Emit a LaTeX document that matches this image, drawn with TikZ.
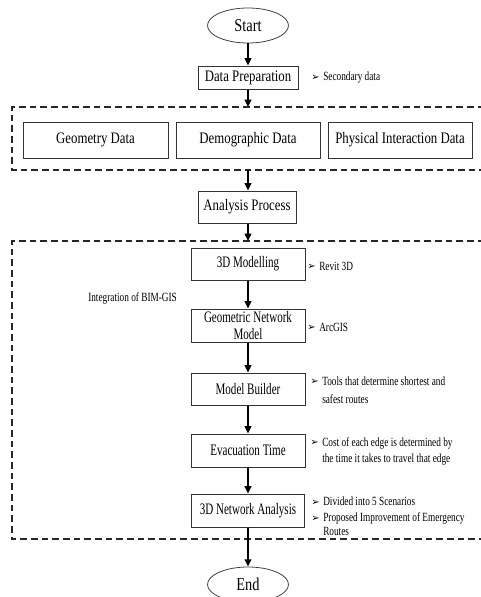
\documentclass[tikz,border=0pt]{standalone}
\usepackage{fontspec}
\setmainfont{Liberation Serif}[FakeStretch=0.8]
\newfontfamily\narrowfont{Liberation Serif}[FakeStretch=0.69]
\newfontfamily\sidefont{Liberation Serif}[FakeStretch=0.74]
\newfontfamily\symfont{DejaVu Sans}
\usetikzlibrary{arrows.meta,shapes.geometric}
\newcommand{\bul}{\makebox[9pt][l]{\raisebox{0.3pt}{\symfont\fontsize{7.5}{8}\selectfont ➢}}}
\begin{document}
\begin{tikzpicture}[x=0.75pt,y=-0.75pt,
  term/.style={ellipse,draw=black!75,line width=0.6pt,inner sep=0pt,minimum width=60.75pt,minimum height=26.25pt,font=\fontsize{13.5}{15}\selectfont},
  procbox/.style={rectangle,draw=black!80,line width=0.75pt,inner sep=0pt,align=center,font=\fontsize{12}{12.75}\selectfont},
  lowbox/.style={procbox,font=\narrowfont\fontsize{12}{12.75}\selectfont},
  side/.style={anchor=west,inner sep=0pt,align=left,font=\sidefont\fontsize{9.4}{11}\selectfont},
  group/.style={draw=black!85,line width=0.9pt,dash pattern=on 5pt off 3pt},
  flow/.style={line width=1.5pt,-{Triangle[length=5.5pt,width=5pt]}}]
\useasboundingbox (0,0) rectangle (481,597);
\clip (0,0) rectangle (481,597);
\fill[white] (0,0) rectangle (481,597);

% nodes
\node[term] (start) at (248,25.5) {Start};
\node[procbox,minimum width=75pt,minimum height=17.25pt] (prep) at (248,77.5) {Data Preparation};
\node[side] (sec) at (311,77.5) {\bul Secondary data};

\draw[group] (495,107) -- (12,107) -- (12,170) -- (495,170);
\coordinate (g1top) at (248,107);
\coordinate (g1bot) at (248,170);
\node[procbox,minimum width=108.75pt,minimum height=27pt] (geo) at (95.5,140) {Geometry Data};
\node[procbox,minimum width=108pt,minimum height=27pt] (demo) at (248,140) {Demographic Data};
\node[procbox,minimum width=108pt,minimum height=27pt] (phys) at (400,140) {Physical Interaction Data};

\node[procbox,minimum width=73.5pt,minimum height=24pt] (ana) at (247,207) {Analysis Process};

\draw[group] (495,241) -- (12,241) -- (12,539) -- (495,539);
\coordinate (g2top) at (248,241);

\node[lowbox,minimum width=85.5pt,minimum height=24pt] (m3d) at (248,264) {3D Modelling};
\node[side] (revit) at (307,266) {\bul Revit 3D};
\node[side] (bimgis) at (88,298) {Integration of BIM-GIS};
\node[lowbox,minimum width=85.5pt,minimum height=24.75pt] (gnm) at (248,325.5) {Geometric Network\\Model};
\node[side] (arcgis) at (307,327) {\bul ArcGIS};
\node[lowbox,minimum width=85.5pt,minimum height=24pt] (mb) at (248,389) {Model Builder};
\node[side] (tools) at (310,391.5) {\begin{tabular}{@{}l@{}l@{}}\bul & Tools that determine shortest and\\[3pt] & safest routes\end{tabular}};
\node[lowbox,minimum width=85.5pt,minimum height=24.75pt] (evac) at (248,450.5) {Evacuation Time};
\node[side] (cost) at (310,451.5) {\begin{tabular}{@{}l@{}l@{}}\bul & Cost of each edge is determined by\\[1.5pt] & the time it takes to travel that edge\end{tabular}};
\node[lowbox,minimum width=84.75pt,minimum height=24.75pt] (na) at (248,510.5) {3D Network Analysis};
\node[side] (div) at (311,518) {\begin{tabular}{@{}l@{}l@{}}\bul & Divided into 5 Scenarios\\[1pt] \bul & Proposed Improvement of Emergency\\[-0.5pt] & Routes\end{tabular}};

\node[term] (end) at (248,584.5) {End};

% connectors
\draw[flow] (start) -- (prep);
\draw[flow] (prep) -- (g1top);
\draw[flow] (g1bot) -- (ana.north -| g1bot);
\draw[flow] (ana.south -| g2top) -- (g2top);
\draw[flow] (m3d) -- (gnm);
\draw[flow] (gnm) -- (mb);
\draw[flow] (mb) -- (evac);
\draw[flow] (evac) -- (na);
\draw[flow] (na) -- (end);
\end{tikzpicture}
\end{document}
